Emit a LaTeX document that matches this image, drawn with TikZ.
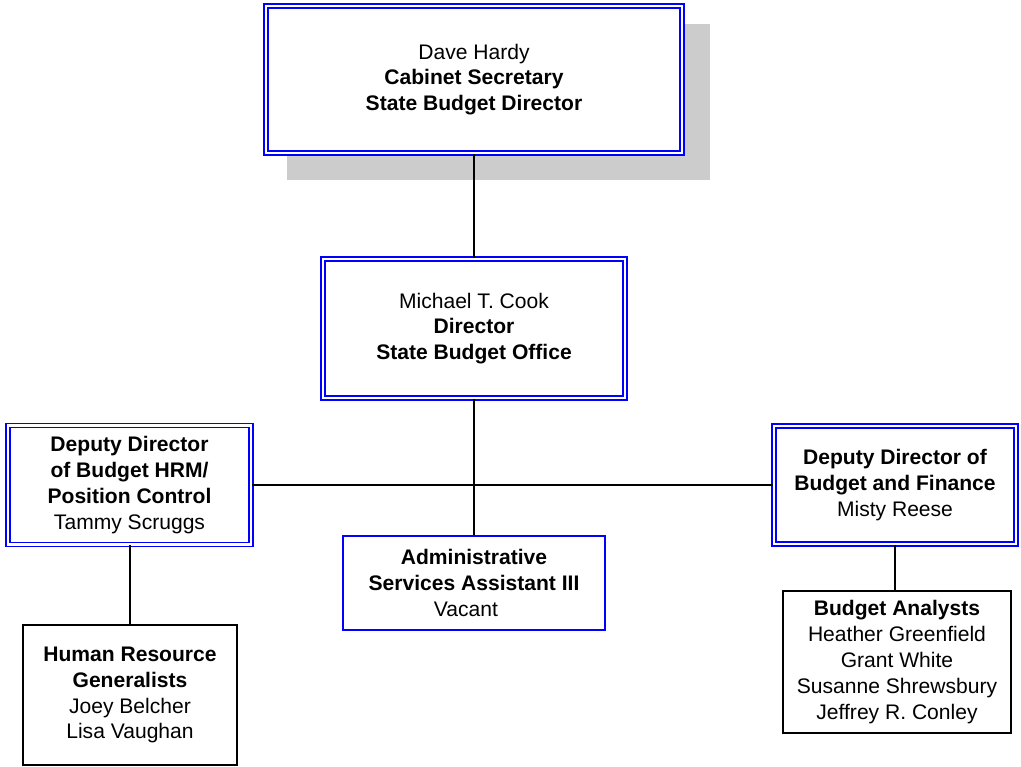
\documentclass[tikz,border=0pt]{standalone}
\usepackage{fontspec}
\setmainfont{Liberation Sans}
\definecolor{bblue}{RGB}{0,0,255}
\definecolor{shadowgray}{RGB}{204,204,204}
\begin{document}
\begin{tikzpicture}[x=0.75pt,y=-0.75pt,
  every node/.style={font=\fontsize{15.8}{19.4}\selectfont, align=center, inner sep=0pt},
  dbox/.style={draw=bblue, line width=1.2pt, double=white, double distance=1.9pt, fill=white},
  sbox/.style={draw=bblue, line width=1.4pt, fill=white},
  kbox/.style={draw=black, line width=1.4pt, fill=white},
  conn/.style={draw=black, line width=1.3pt}]
\useasboundingbox (0,0) rectangle (1021,767);
% shadow
\fill[shadowgray] (287,24) rectangle (710,180);
\node[dbox, minimum width=312pt, minimum height=110.25pt] (top) at (474,79.5)
  {Dave Hardy\\\textbf{Cabinet Secretary}\\\textbf{State Budget Director}};
\node[dbox, minimum width=226.5pt, minimum height=104.25pt] (dir) at (474,328.5)
  {Michael T. Cook\\\textbf{Director}\\\textbf{State Budget Office}};
\node[dbox, minimum width=182.25pt, minimum height=89.25pt] (ld) at (129.5,485)
  {\textbf{Deputy Director}\\\textbf{of Budget HRM/}\\\textbf{Position Control}\\Tammy Scruggs};
\node[dbox, minimum width=181.5pt, minimum height=88.5pt] (rd) at (895,485)
  {\textbf{Deputy Director of}\\\textbf{Budget and Finance}\\Misty Reese};
\node[sbox, minimum width=196.5pt, minimum height=70.5pt] (adm) at (474,583)
  {\textbf{Administrative}\\\textbf{Services Assistant III}\\Vacant\hspace*{12pt}};
\node[kbox, minimum width=160.5pt, minimum height=105pt] (hr) at (130,695)
  {\textbf{Human Resource}\\\textbf{Generalists}\\Joey Belcher\\Lisa Vaughan};
\node[kbox, minimum width=171pt, minimum height=106.5pt] (ba) at (897,662)
  {\textbf{Budget Analysts}\\Heather Greenfield\\Grant White\\Susanne Shrewsbury\\Jeffrey R. Conley};
% connectors
\draw[conn] (top.south) -- (dir.north);
\draw[conn] (dir.south) -- (adm.north);
\draw[conn] (ld.east) -- (rd.west);
\draw[conn] (hr.north |- ld.south) -- (hr.north);
\draw[conn] (rd.south) -- (rd.south |- ba.north);
\end{tikzpicture}
\end{document}
